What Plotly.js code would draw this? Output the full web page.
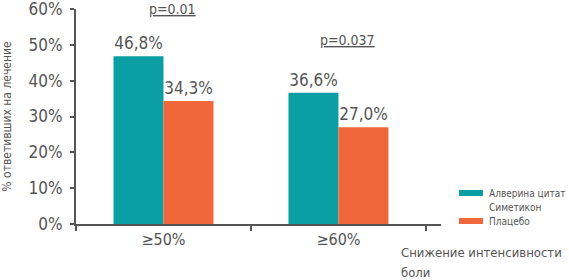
<!DOCTYPE html>
<html>
<head>
<meta charset="utf-8">
<script src="https://cdn.plot.ly/plotly-3.0.1.min.js"></script>
<style>html,body{margin:0;padding:0;background:#fff;}#chart{width:569px;height:280px;}</style>
</head>
<body>
<div id="chart"></div>
<script>
var categories = ['≥50%', '≥60%'];
var seriesNames = ['Алверина цитат Симетикон', 'Плацебо'];
var alverine = [46.8, 36.6];
var placebo = [34.3, 27.0];
var alverineLabels = ['46,8%', '36,6%'];
var placeboLabels = ['34,3%', '27,0%'];
var pValues = ['p=0.01', 'p=0.037'];
var pValueY = [60, 51.3];
var yTicks = [0, 10, 20, 30, 40, 50, 60];
var yTickLabels = ['0%', '10%', '20%', '30%', '40%', '50%', '60%'];

var FONT = '"DejaVu Sans Condensed", "Liberation Sans Narrow", "Noto Sans", sans-serif';
var GREY = '#555555';
var TEAL = '#0b9fa3';
var ORANGE = '#f1673c';

// plot area in pixels
var PL = 76, PR = 441, PT = 9, PB = 224;
function px(x) { return (x - PL) / (PR - PL); }
function py(y) { return (PB - y) / (PB - PT); }

var traces = [
  {type: 'bar', x: categories, y: alverine, name: seriesNames[0], marker: {color: TEAL},
   text: alverineLabels, textposition: 'outside', cliponaxis: false, constraintext: 'none',
   textfont: {family: FONT, size: 17, color: GREY}, hoverinfo: 'none'},
  {type: 'bar', x: categories, y: placebo, name: seriesNames[1], marker: {color: ORANGE},
   text: placeboLabels, textposition: 'outside', cliponaxis: false, constraintext: 'none',
   textfont: {family: FONT, size: 17, color: GREY}, hoverinfo: 'none'}
];

var annotations = [];
for (var i = 0; i < pValues.length; i++) {
  annotations.push({x: i + 0.05, y: pValueY[i], xref: 'x', yref: 'y', text: '<u>' + pValues[i] + '</u>',
    showarrow: false, font: {family: FONT, size: 14, color: GREY}, yanchor: 'middle'});
}
// legend drawn manually
var legendRows = [{y: 193, color: TEAL, text: 'Алверина цитат'}, {y: 207, color: null, text: 'Симетикон'}, {y: 221, color: ORANGE, text: 'Плацебо'}];
var shapes = [];
legendRows.forEach(function (r) {
  annotations.push({x: px(487), y: py(r.y), xref: 'paper', yref: 'paper', text: r.text, showarrow: false,
    xanchor: 'left', yanchor: 'middle', font: {family: FONT, size: 10, color: GREY}});
  if (r.color) {
    shapes.push({type: 'rect', xref: 'paper', yref: 'paper', x0: px(459), x1: px(483),
      y0: py(r.y + 3), y1: py(r.y - 3), fillcolor: r.color, line: {width: 0}});
  }
});
annotations.push({x: px(399), y: py(253), xref: 'paper', yref: 'paper', text: 'Снижение интенсивности', showarrow: false,
  xanchor: 'left', yanchor: 'middle', font: {family: FONT, size: 13, color: GREY}});
annotations.push({x: px(399), y: py(272), xref: 'paper', yref: 'paper', text: 'боли', showarrow: false,
  xanchor: 'left', yanchor: 'middle', font: {family: FONT, size: 13, color: GREY}});

var layout = {
  width: 569, height: 280,
  margin: {l: PL, r: 569 - PR, t: PT, b: 280 - PB, pad: 0},
  paper_bgcolor: '#ffffff', plot_bgcolor: '#ffffff',
  barmode: 'group', bargap: 0.4286, bargroupgap: 0,
  showlegend: false,
  font: {family: FONT, color: GREY},
  xaxis: {type: 'category', range: [-0.5, 1.586], tickson: 'boundaries', ticks: 'outside', ticklen: 5, tickwidth: 2,
    tickcolor: GREY, showline: true, linecolor: GREY, linewidth: 2, showgrid: false, zeroline: false,
    tickfont: {family: FONT, size: 16, color: GREY}, fixedrange: true},
  yaxis: {range: [0, 60], tickvals: yTicks, ticktext: yTickLabels, ticks: 'outside', ticklen: 4, tickwidth: 2,
    tickcolor: GREY, showline: true, linecolor: GREY, linewidth: 2, showgrid: false, zeroline: false,
    ticklabeloverflow: 'allow', ticklabelstandoff: 4,
    tickfont: {family: FONT, size: 17, color: GREY},
    title: {text: '% ответивших на лечение', font: {family: FONT, size: 12, color: GREY}, standoff: 14}},
  annotations: annotations,
  shapes: shapes
};
Plotly.newPlot('chart', traces, layout, {displayModeBar: false, staticPlot: true});
</script>
</body>
</html>
